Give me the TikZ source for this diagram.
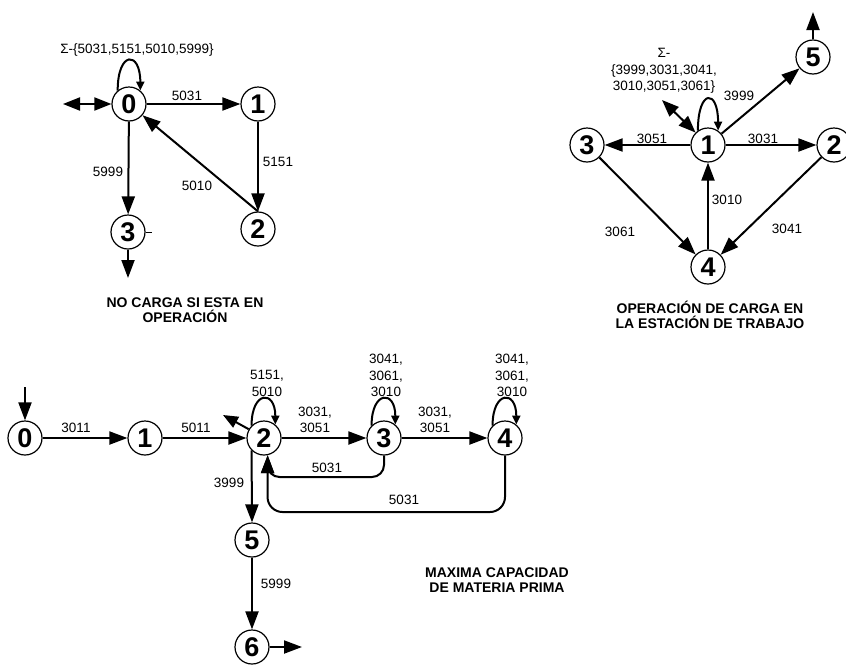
\documentclass[tikz,border=0pt]{standalone}
\usepackage{fontspec}
\setmainfont{Liberation Sans}
\usetikzlibrary{arrows.meta}
\begin{document}
\begin{tikzpicture}[x=1pt,y=-1pt,
 st/.style={circle,draw,line width=1.2pt,minimum size=34pt,inner sep=0pt,font=\bfseries\fontsize{27}{27}\selectfont},
 edge/.style={line width=2pt,-{Triangle[length=18pt,width=13pt]}},
 smalledge/.style={line width=2pt,-{Triangle[length=15pt,width=12pt]}},
 dbl/.style={line width=2pt,{Triangle[length=17pt,width=13pt]}-{Triangle[length=17pt,width=13pt]}},
 loopedge/.style={line width=2pt,-{Triangle[length=9pt,width=8pt]}},
 lbl/.style={font=\fontsize{13.5}{16.5}\selectfont,inner sep=0pt,align=center},
 captext/.style={font=\bfseries\fontsize{14}{15}\selectfont,inner sep=0pt,align=center}]
\useasboundingbox[fill=white] (0,0) rectangle (846,667);

% ---------- top-left graph ----------
\node[st] (a0) at (129,104) {0};
\node[st] (a1) at (258,104) {1};
\node[st] (a2) at (258,229) {2};
\node[st] (a3) at (128,232) {3};
\coordinate (a0in) at (63,104);
\coordinate (a3out) at (128,278);
\draw[dbl] (a0in) -- (a0);
\draw[loopedge] (a0.130) .. controls +(0,-40) and +(0,-40) .. (a0.50);
\draw[edge] (a0) -- (a1);
\draw[edge] (a1) -- (a2);
\draw[edge] (a2.north) -- (a0);
\draw[edge] (a0) -- (a3);
\draw[edge] (a3) -- (a3out);
\draw[line width=0.6pt] (a3.east) -- ++(6,0);
\node[lbl] (la) at (137,50) {Σ-\{5031,5151,5010,5999\}};
\node[lbl] at (187,96) {5031};
\node[lbl] at (278,162) {5151};
\node[lbl] at (108,172) {5999};
\node[lbl] at (197,186) {5010};
\node[captext] at (185,310.5) {NO CARGA SI ESTA EN\\OPERACIÓN};

% ---------- top-right graph ----------
\node[st] (r1) at (708,145) {1};
\node[st] (r3) at (587,145) {3};
\node[st] (r2) at (834,145) {2};
\node[st] (r4) at (708,267) {4};
\node[st] (r5) at (813,57) {5};
\coordinate (r5out) at (813,12);
\coordinate (r1in) at (662,100);
\draw[dbl] (r1in) -- (r1.135);
\draw[loopedge] (r1.125) .. controls +(0,-42) and +(0,-42) .. (r1.55);
\draw[edge] (r1) -- (r3);
\draw[edge] (r1) -- (r2);
\draw[edge] (r1) -- (r5);
\draw[edge] (r4) -- (r1);
\draw[edge] (r3) -- (r4);
\draw[edge] (r2) -- (r4);
\draw[edge] (r5) -- (r5out);
\node[lbl] at (664,71) {Σ-\\\{3999,3031,3041,\\3010,3051,3061\}};
\node[lbl] at (739,96) {3999};
\node[lbl] at (652,139) {3051};
\node[lbl] at (763,139) {3031};
\node[lbl] at (727,200) {3010};
\node[lbl] at (620,232) {3061};
\node[lbl] at (787,229) {3041};
\node[captext] at (710,314.5) {OPERACIÓN DE CARGA EN\\LA ESTACIÓN DE TRABAJO};

% ---------- bottom graph ----------
\node[st] (b0) at (25,438) {0};
\node[st] (b1) at (145,438) {1};
\node[st] (b2) at (264,438) {2};
\node[st] (b3) at (384,438) {3};
\node[st] (b4) at (505,438) {4};
\node[st] (b5) at (252,540) {5};
\node[st] (b6) at (252,647) {6};
\coordinate (b0in) at (25,387);
\coordinate (b6out) at (302,647);
\coordinate (b2out) at (223,415);
\draw[edge] (b0in) -- (b0);
\draw[edge] (b0) -- (b1);
\draw[edge] (b1) -- (b2);
\draw[edge] (b2) -- (b3);
\draw[edge] (b3) -- (b4);
\draw[loopedge] (b2.135) .. controls +(0,-35) and +(0,-35) .. (b2.50);
\draw[loopedge] (b3.135) .. controls +(0,-35) and +(0,-35) .. (b3.50);
\draw[loopedge] (b4.135) .. controls +(0,-35) and +(0,-35) .. (b4.50);
\draw[edge,rounded corners=12pt] (b3.south) -- (384,477) -- (267.5,477) -- (b2.-78);
\draw[edge,rounded corners=15pt] (b4.south) -- (505,512) -- (267.5,512) -- (b2.-78);
\draw[edge] (b2.-135) -- (b5.north);
\draw[edge] (b5) -- (b6);
\draw[edge] (b6) -- (b6out);
\draw[smalledge] (b2.150) -- (b2out);
\node[lbl] at (76,428) {3011};
\node[lbl] at (196,428) {5011};
\node[lbl] at (267,383.5) {5151,\\5010};
\node[lbl] at (386,375.5) {3041,\\3061,\\3010};
\node[lbl] at (512,375.5) {3041,\\3061,\\3010};
\node[lbl] at (315,420) {3031,\\3051};
\node[lbl] at (435,420) {3031,\\3051};
\node[lbl] at (327,468) {5031};
\node[lbl] at (404,500) {5031};
\node[lbl] at (229,483) {3999};
\node[lbl] at (276,584) {5999};
\node[captext] at (497,580.5) {MAXIMA CAPACIDAD\\DE MATERIA PRIMA};
\end{tikzpicture}
\end{document}
